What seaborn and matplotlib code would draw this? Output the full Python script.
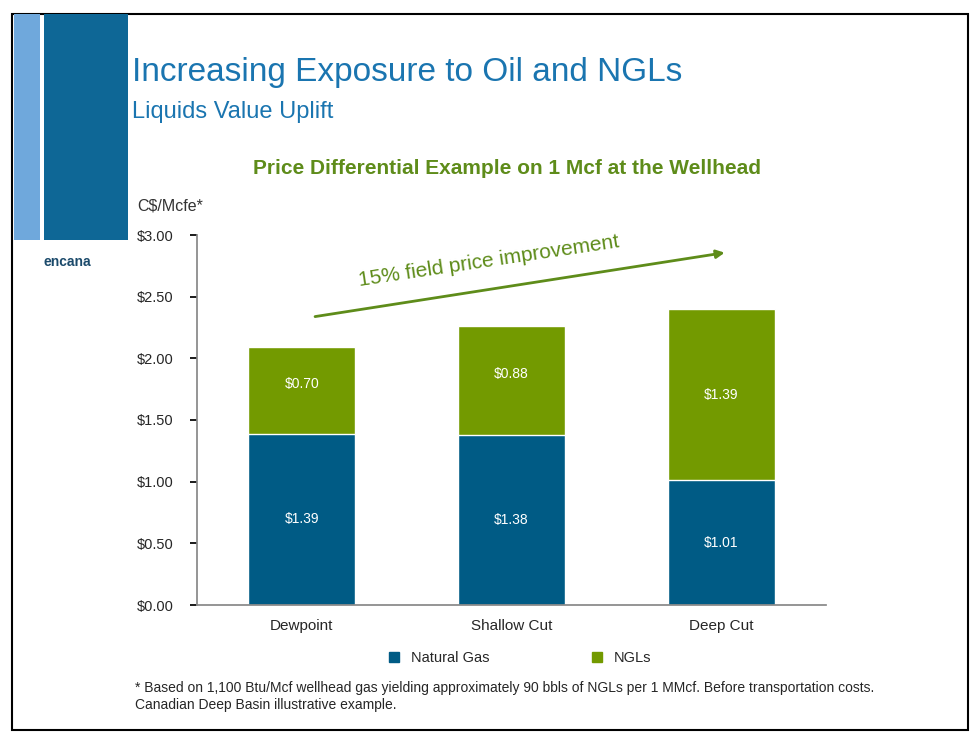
import numpy as np
import pandas as pd
import matplotlib.pyplot as plt
import matplotlib.patches as mpatches
import seaborn as sns

categories = ["Dewpoint", "Shallow Cut", "Deep Cut"]
natural_gas = [1.39, 1.38, 1.01]
ngls = [0.70, 0.88, 1.39]
yticks = [0.0, 0.5, 1.0, 1.5, 2.0, 2.5, 3.0]

GAS = "#005B85"
NGL = "#739A00"
BLUE = "#1A75B0"

sns.set_theme(style="white")
plt.rcParams["font.family"] = ["Liberation Sans", "DejaVu Sans"]

fig = plt.figure(figsize=(9.77, 7.45), dpi=100)

# slide frame and side bands
fig.add_artist(mpatches.Rectangle((12/977, 1-730/745), 956/977, 716/745, fill=False,
                                  ec="black", lw=1.5, transform=fig.transFigure))
fig.add_artist(mpatches.Rectangle((14/977, 1-240/745), 26/977, 226/745, color="#6FA8DC",
                                  transform=fig.transFigure, lw=0))
fig.add_artist(mpatches.Rectangle((44/977, 1-240/745), 84/977, 226/745, color="#0E6796",
                                  transform=fig.transFigure, lw=0))
fig.text(44/977, 1-262/745, "encana", fontsize=10, color="#1B4A6B", va="center", weight="bold")

fig.text(132/977, 1-73/745, "Increasing Exposure to Oil and NGLs", fontsize=24, color=BLUE, va="center")
fig.text(132/977, 1-112/745, "Liquids Value Uplift", fontsize=17, color=BLUE, va="center")
fig.text(507/977, 1-168/745, "Price Differential Example on 1 Mcf at the Wellhead", fontsize=15,
         color="#5E8C1A", weight="bold", ha="center", va="center")
fig.text(137/977, 1-206/745, "C$/Mcfe*", fontsize=11.5, color="#333333", va="center")

ax = fig.add_axes([197/977, 1-605/745, 629/977, 370/745])
df = pd.DataFrame({"cat": categories, "gas": natural_gas, "ngl": ngls})
df["total"] = df["gas"] + df["ngl"]
sns.barplot(data=df, x="cat", y="total", color=NGL, width=0.51, ax=ax, saturation=1)
sns.barplot(data=df, x="cat", y="gas", color=GAS, width=0.51, ax=ax, saturation=1)

for i, (g, n) in enumerate(zip(natural_gas, ngls)):
    ax.text(i, g / 2 if g > 1.2 else g / 2, f"${g:.2f}", color="white", ha="center", va="center", fontsize=10)
    ax.text(i, g + n / 2 + (0.05 if n < 1 else 0), f"${n:.2f}", color="white", ha="center", va="center", fontsize=10)

ax.set_xlim(-0.5, 2.5)
ax.set_ylim(0, 3.0)
ax.set_yticks(yticks)
ax.set_yticklabels([f"${v:.2f}" for v in yticks], fontsize=10.5)
ax.tick_params(axis="x", labelsize=11, length=0, pad=10)
ax.tick_params(axis="y", left=True, length=5, color="black", pad=12)
ax.set_xlabel("")
ax.set_ylabel("")
for s in ["top", "right"]:
    ax.spines[s].set_visible(False)
ax.spines["left"].set_color("#888888")
ax.spines["bottom"].set_color("#888888")

ax.annotate("", xy=(2.03, 2.86), xytext=(0.05, 2.335),
            arrowprops=dict(arrowstyle="-|>", color="#5E8C1A", lw=2, mutation_scale=12))
ax.text(0.89, 2.79, "15% field price improvement", rotation=8.5, color="#5E8C1A",
        fontsize=15, ha="center", va="center")

handles = [mpatches.Patch(color=GAS, label="Natural Gas"), mpatches.Patch(color=NGL, label="NGLs")]
fig.legend(handles=handles, loc="center", bbox_to_anchor=(520/977, 1-658/745), ncol=2,
           frameon=False, fontsize=10.5, handlelength=0.7, handleheight=0.7, columnspacing=7)

fig.text(135/977, 1-688/745, "* Based on 1,100 Btu/Mcf wellhead gas yielding approximately 90 bbls of NGLs per 1 MMcf. "
         "Before transportation costs.", fontsize=10, va="center")
fig.text(135/977, 1-705/745, "Canadian Deep Basin illustrative example.", fontsize=10, va="center")

fig.savefig("out.png", dpi=100)
